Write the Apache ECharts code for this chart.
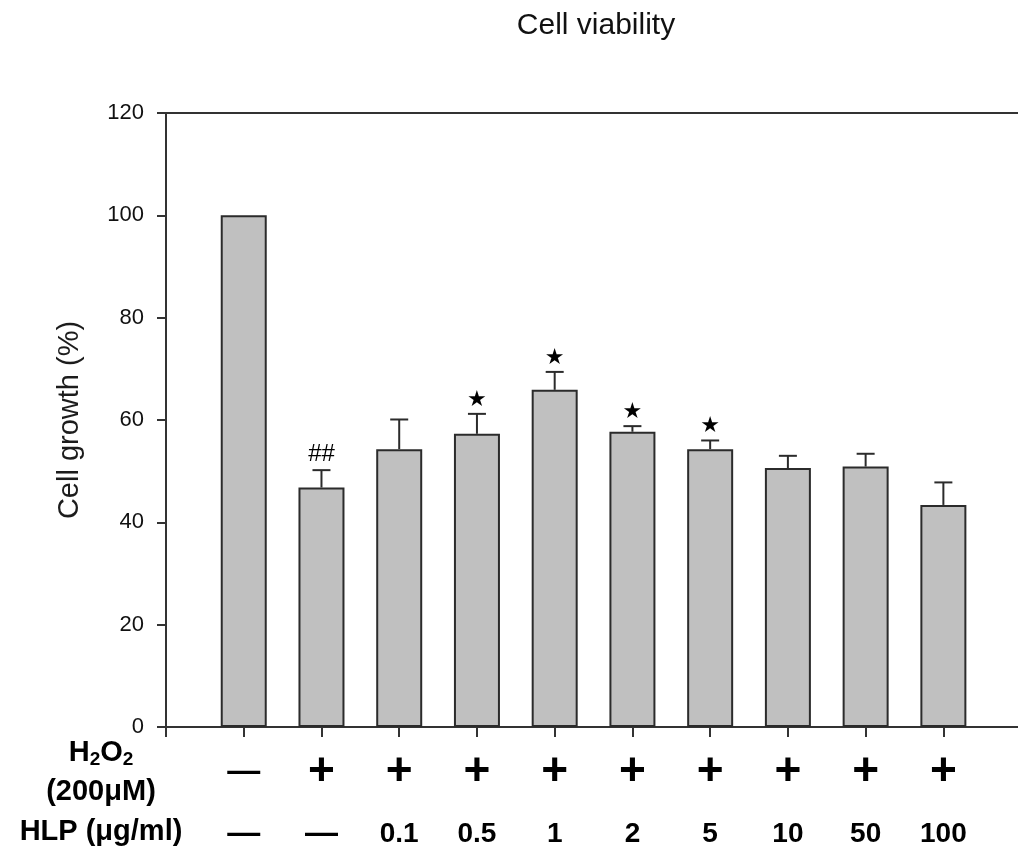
<!DOCTYPE html>
<html>
<head>
<meta charset="utf-8">
<script src="https://cdn.jsdelivr.net/npm/echarts@6/dist/echarts.min.js"></script>
<style>
  html, body { margin: 0; padding: 0; background: #fff; }
  #chart { width: 1018px; height: 853px; }
</style>
</head>
<body>
<div id="chart"></div>
<script>
// Treatment groups and their condition labels
const groups = ['Control', 'H2O2', 'HLP 0.1', 'HLP 0.5', 'HLP 1', 'HLP 2', 'HLP 5', 'HLP 10', 'HLP 50', 'HLP 100'];
const h2o2Marks = ['—', '+', '+', '+', '+', '+', '+', '+', '+', '+'];
const hlpMarks = ['—', '—', '0.1', '0.5', '1', '2', '5', '10', '50', '100'];

// Cell growth (% of control), mean and SD
const growth = [100, 46.8, 54.3, 57.3, 65.9, 57.7, 54.3, 50.6, 50.9, 43.4];
const growthSD = [0, 3.4, 5.8, 3.9, 3.5, 1.1, 1.7, 2.4, 2.5, 4.4];

// Significance marks above each bar
const sigMarks = ['', '##', '', '★', '★', '★', '★', '', '', ''];

// Axis ticks
const yTicks = [0, 20, 40, 60, 80, 100, 120];
const xTickPositions = [0, 1, 2, 3, 4, 5, 6, 7, 8, 9, 10];

const FONT = '"Liberation Sans", Arial, sans-serif';
const INK = '#111';
const AXIS = '#333';

const positions = groups.map((g, i) => i + 1);
const barData = positions.map((x, i) => [x, growth[i]]);
const errData = positions.map((x, i) => [x, growth[i], growthSD[i]]);

const chart = echarts.init(document.getElementById('chart'), null, { renderer: 'canvas' });

chart.setOption({
  backgroundColor: '#fff',
  animation: false,
  title: {
    text: 'Cell viability',
    left: 596,
    top: 11,
    padding: 0,
    textAlign: 'center',
    textStyle: { fontFamily: FONT, fontSize: 30, fontWeight: 'normal', color: INK }
  },
  grid: { left: 166, right: 0, top: 113, bottom: 126, containLabel: false },
  xAxis: [
    {
      type: 'value',
      min: 0,
      max: 10.96,
      interval: 1,
      splitLine: { show: false },
      axisLine: { show: true, onZero: false, lineStyle: { color: AXIS, width: 2 } },
      axisTick: { show: true, length: 10, customValues: xTickPositions, lineStyle: { color: AXIS, width: 2 } },
      axisLabel: {
        show: true,
        customValues: positions,
        margin: 14,
        formatter: function (v) {
          const i = Math.round(v) - 1;
          const top = h2o2Marks[i] === '+' ? '{p|+}' : '{d|—}';
          const bottom = hlpMarks[i] === '—' ? '{d|—}' : '{n|' + hlpMarks[i] + '}';
          return top + '\n' + bottom;
        },
        rich: {
          p: { fontFamily: FONT, fontSize: 46, fontWeight: 'bold', color: '#000', lineHeight: 62 },
          d: { fontFamily: FONT, fontSize: 33, fontWeight: 'bold', color: '#000', lineHeight: 62 },
          n: { fontFamily: FONT, fontSize: 28, fontWeight: 'bold', color: '#000', lineHeight: 62 }
        }
      }
    },
    {
      type: 'value',
      position: 'top',
      min: 0,
      max: 10.96,
      axisLine: { show: true, onZero: false, lineStyle: { color: AXIS, width: 2 } },
      axisTick: { show: false },
      axisLabel: { show: false },
      splitLine: { show: false }
    }
  ],
  yAxis: {
    type: 'value',
    min: 0,
    max: 120,
    interval: 20,
    name: 'Cell growth (%)',
    nameLocation: 'middle',
    nameRotate: 90,
    nameGap: 82,
    nameTextStyle: { fontFamily: FONT, fontSize: 29, color: '#1c1c1c' },
    splitLine: { show: false },
    axisLine: { show: true, lineStyle: { color: AXIS, width: 2 } },
    axisTick: { show: true, length: 9, lineStyle: { color: AXIS, width: 2 } },
    axisLabel: {
      margin: 22,
      fontFamily: FONT,
      fontSize: 22,
      color: INK,
      formatter: function (v) { return yTicks.indexOf(v) >= 0 ? String(v) : ''; }
    }
  },
  graphic: [
    {
      type: 'text',
      x: 101, y: 753,
      style: {
        text: '{m|H}{s|2}{m|O}{s|2}',
        align: 'center', verticalAlign: 'middle',
        rich: {
          m: { fontFamily: FONT, fontSize: 29, fontWeight: 'bold', fill: '#000', lineHeight: 32, verticalAlign: 'middle' },
          s: { fontFamily: FONT, fontSize: 19, fontWeight: 'bold', fill: '#000', lineHeight: 20, verticalAlign: 'bottom' }
        }
      }
    },
    {
      type: 'text',
      x: 101, y: 792,
      style: { text: '(200μM)', align: 'center', verticalAlign: 'middle', font: 'bold 29px ' + FONT, fill: '#000' }
    },
    {
      type: 'text',
      x: 101, y: 832,
      style: { text: 'HLP (μg/ml)', align: 'center', verticalAlign: 'middle', font: 'bold 29px ' + FONT, fill: '#000' }
    }
  ],
  series: [
    {
      name: 'Cell growth',
      type: 'bar',
      xAxisIndex: 0,
      data: barData,
      barWidth: 46,
      itemStyle: { color: '#c0c0c0', borderColor: '#2b2b2b', borderWidth: 2 }
    },
    {
      name: 'SD',
      type: 'custom',
      xAxisIndex: 0,
      data: errData,
      z: 3,
      renderItem: function (params, api) {
        const x = api.value(0);
        const m = api.value(1);
        const s = api.value(2);
        const base = api.coord([x, m]);
        const top = api.coord([x, m + s]);
        const children = [];
        const lineStyle = { stroke: '#2b2b2b', lineWidth: 2 };
        if (s > 0) {
          children.push({ type: 'line', shape: { x1: base[0], y1: base[1], x2: top[0], y2: top[1] }, style: lineStyle });
          children.push({ type: 'line', shape: { x1: top[0] - 9, y1: top[1], x2: top[0] + 9, y2: top[1] }, style: lineStyle });
        }
        const mk = sigMarks[params.dataIndex];
        if (mk) {
          const isStar = mk === '★';
          children.push({
            type: 'text',
            x: top[0],
            y: top[1] - (isStar ? 14 : 16),
            style: {
              text: mk,
              align: 'center',
              verticalAlign: 'middle',
              font: isStar ? '22px "DejaVu Sans", sans-serif' : '24px ' + FONT,
              fill: '#000'
            }
          });
        }
        return { type: 'group', children: children };
      }
    }
  ]
});
</script>
</body>
</html>
